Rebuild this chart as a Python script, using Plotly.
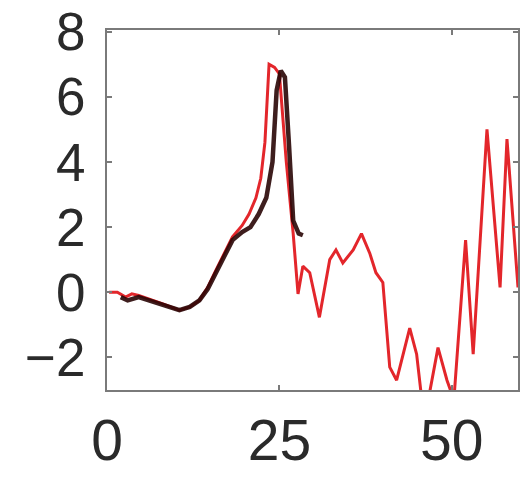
import plotly.graph_objects as go

# Red series (long)
red_x = [0.3, 1.5, 2.7, 3.6, 4.6, 6.0, 8.0, 10.5, 12.0, 13.4, 14.6, 15.8, 17.0, 18.2, 19.6, 20.6, 21.6, 22.3, 22.9, 23.5, 24.3, 25.0, 26.0, 27.0, 27.7, 28.4, 29.4, 30.8, 32.3, 33.2, 34.2, 35.7, 36.9, 38.1, 39.0, 40.0, 41.0, 42.0, 43.9, 44.9, 45.6, 46.5, 48.0, 49.3, 50.3, 52.0, 53.1, 55.1, 57.0, 58.0, 59.6]
red_y = [0.0, 0.0, -0.15, -0.05, -0.1, -0.2, -0.35, -0.55, -0.45, -0.25, 0.15, 0.68, 1.2, 1.7, 2.05, 2.4, 2.9, 3.5, 4.6, 7.0, 6.9, 6.7, 4.0, 1.8, -0.05, 0.8, 0.6, -0.77, 1.0, 1.3, 0.9, 1.3, 1.8, 1.2, 0.6, 0.3, -2.3, -2.7, -1.1, -1.9, -3.2, -3.4, -1.7, -2.7, -3.3, 1.6, -1.9, 5.0, 0.15, 4.7, 0.15]

# Black series (short)
black_x = [2.0, 3.0, 4.6, 6.0, 8.0, 10.5, 12.0, 13.4, 14.6, 15.8, 17.0, 18.2, 19.6, 20.8, 22.0, 23.1, 24.0, 24.6, 25.2, 25.8, 26.4, 27.0, 27.8, 28.4]
black_y = [-0.15, -0.25, -0.15, -0.25, -0.4, -0.55, -0.45, -0.25, 0.1, 0.6, 1.1, 1.6, 1.85, 2.0, 2.4, 2.9, 4.0, 6.2, 6.8, 6.6, 4.5, 2.2, 1.8, 1.75]

x_ticks = [0, 25, 50]
y_ticks = [-2, 0, 2, 4, 6, 8]

fig = go.Figure()
fig.add_trace(go.Scatter(x=red_x, y=red_y, mode="lines",
                         line=dict(color="#e3262b", width=3), hoverinfo="skip"))
fig.add_trace(go.Scatter(x=black_x, y=black_y, mode="lines",
                         line=dict(color="#2a0606", width=4.5), opacity=0.9, hoverinfo="skip"))

axis_common = dict(showgrid=False, zeroline=False, showline=True, linecolor="#7a7a7a",
                   linewidth=2, mirror="ticks", ticks="inside", ticklen=5,
                   tickcolor="#7a7a7a", tickwidth=1.5, automargin=False,
                   ticklabeloverflow="allow")

fig.update_layout(
    width=522, height=478,
    margin=dict(l=107, r=4, t=30, b=88),
    paper_bgcolor="white", plot_bgcolor="white",
    showlegend=False,
    font=dict(family="Liberation Sans", color="#2a2a2a"),
    xaxis=dict(range=[0, 59.6], tickvals=x_ticks, ticktext=[str(v) for v in x_ticks],
               tickfont=dict(size=57), ticklabelstandoff=0, **axis_common),
    yaxis=dict(range=[-3, 8.05], tickvals=y_ticks,
               ticktext=["\u22122" if v < 0 else str(v) for v in y_ticks],
               tickfont=dict(size=53), ticklabelstandoff=9, **axis_common),
)

fig.write_html("out.html",
               config={"displayModeBar": False},
               post_script="document.body.style.margin='0';document.body.style.overflow='hidden';")
